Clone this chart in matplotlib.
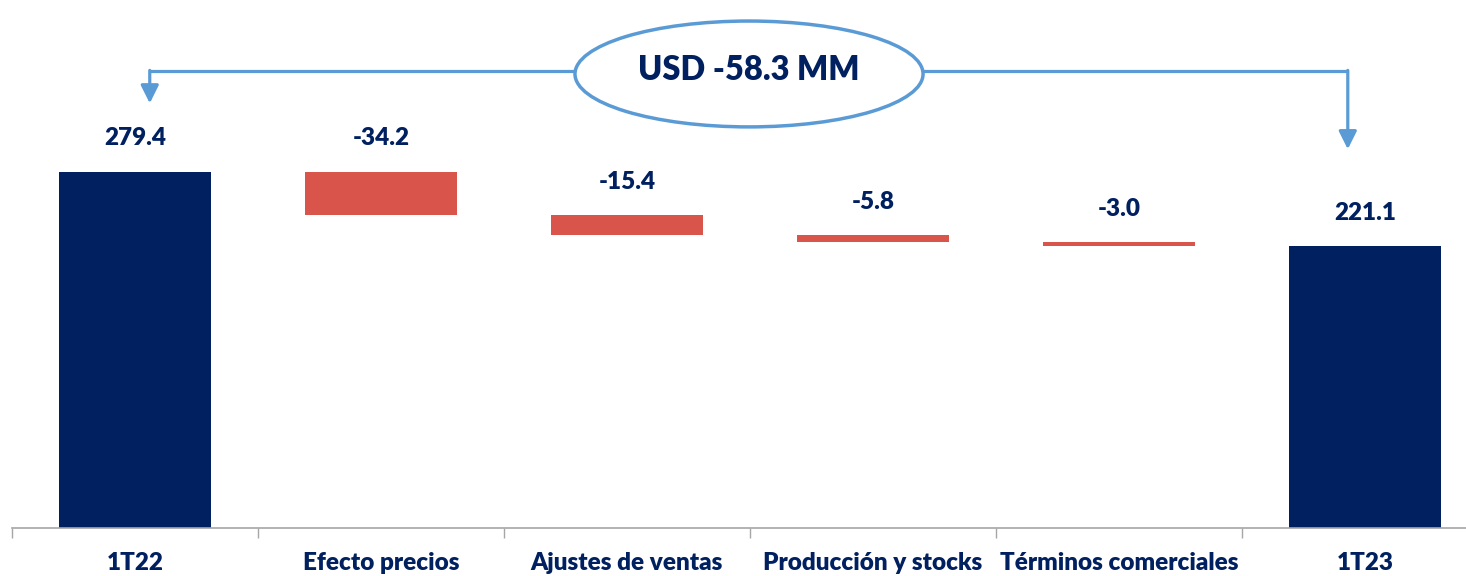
import numpy as np
import matplotlib.pyplot as plt
from matplotlib.patches import Ellipse

# waterfall data (USD MM)
categories = ['1T22', 'Efecto precios', 'Ajustes de ventas',
              'Producción y stocks', 'Términos comerciales', '1T23']
start_value = 279.4
changes = [-34.2, -15.4, -5.8, -3.0]
end_value = 221.1
total_label = 'USD -58.3 MM'

navy = '#002060'
red = '#D9544A'
blue = '#5B9BD5'
weight = 'heavy'

plt.rcParams['font.family'] = ['Lato', 'DejaVu Sans']

fig = plt.figure(figsize=(14.66, 5.76), dpi=100)
# axes runs a little past the right edge of the figure
ax = fig.add_axes([12/1466, 48/576, 1476/1466, 528/576])

x = np.arange(len(categories))
running = start_value + np.cumsum(changes)
bottoms = [0] + list(running) + [0]
heights = [start_value] + [-c for c in changes] + [end_value]
colors = [navy] + [red] * len(changes) + [navy]
labels = [start_value] + changes + [end_value]

ax.bar(x, heights, bottom=bottoms, width=0.62, color=colors)

bar_tops = [b + h for b, h in zip(bottoms, heights)]
for xi, top, val in zip(x, bar_tops, labels):
    ax.annotate(f'{val:.1f}', (xi, top), xytext=(0, 24), textcoords='offset points',
                ha='center', va='center', fontsize=17.5, color=navy, fontweight=weight)

ax.set_xlim(-0.5, len(categories) - 0.5)
ax.set_ylim(0, 414)

# category separators on the x axis
ax.set_xticks(np.arange(len(categories) + 1) - 0.5)
ax.set_xticklabels([])
ax.set_xticks(x, minor=True)
ax.set_xticklabels(categories, minor=True, fontsize=17.5, color=navy, fontweight=weight)
ax.tick_params(axis='x', which='major', length=7, color='#A6A6A6', width=1)
ax.tick_params(axis='x', which='minor', length=0, pad=17)
ax.set_yticks([])
for side in ['top', 'right', 'left']:
    ax.spines[side].set_visible(False)
ax.spines['bottom'].set_color('#A6A6A6')
ax.spines['bottom'].set_linewidth(1.2)

# bracket connecting first and last bars
y_line = 358
x_left, x_right = 0.06, 4.93
ax.plot([x_left, x_right], [y_line, y_line], color=blue, lw=2.3,
        solid_capstyle='butt', clip_on=False, zorder=2)
arrow = dict(arrowstyle='-|>,head_length=0.8,head_width=0.4', mutation_scale=13.5,
             color=blue, lw=2.3, shrinkA=0, shrinkB=0)
ax.annotate('', xy=(x_left, 333), xytext=(x_left, y_line + 0.8), arrowprops=arrow)
ax.annotate('', xy=(x_right, 297), xytext=(x_right, y_line + 0.8), arrowprops=arrow)

ell = Ellipse((2.496, 356), width=1.415, height=83, facecolor='white',
              edgecolor=blue, lw=2.5, zorder=3, clip_on=False)
ax.add_patch(ell)
ax.text(2.496, 359, total_label, ha='center', va='center', fontsize=23.5,
        color=navy, fontweight=weight, zorder=4)

fig.savefig('out.png', dpi=100)
